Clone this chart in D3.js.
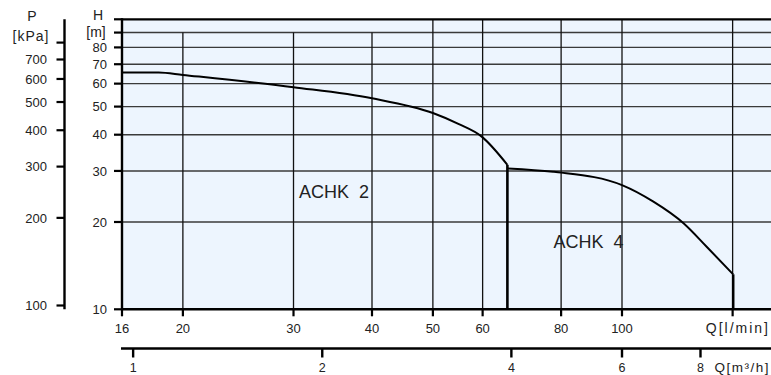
<!DOCTYPE html>
<html><head><meta charset="utf-8">
<script src="https://cdn.jsdelivr.net/npm/d3@7"></script>
<style>
html,body{margin:0;padding:0;background:#fff;}
svg{display:block;font-family:"Liberation Sans",Arial,sans-serif;}
</style></head>
<body>
<svg id="chart" width="771" height="375"></svg>
<script>
// ---- data ----
const achk2Q = [16, 18.3, 20, 30, 40, 50, 55, 59.8, 65.7];
const achk2H = [65.6, 65.6, 64.3, 58.3, 53.4, 47.5, 43.5, 39.4, 31.5];
const achk4Q = [65.7, 77.7, 80, 100, 112.2, 125.3, 136.5, 150.3];
const achk4H = [30.6, 29.8, 29.6, 26.8, 23.5, 19.8, 16.4, 13.2];
const hTicks = [10, 20, 30, 40, 50, 60, 70, 80, 90, 100];
const hTickLabels = ["10", "20", "30", "40", "50", "60", "70", "80", "", ""];
const hGrid = [20, 30, 40, 50, 60, 70, 80, 90];
const pTicks = [100, 200, 300, 400, 500, 600, 700, 800];
const pTickLabels = ["100", "200", "300", "400", "500", "600", "700", ""];
const qTicks = [16, 20, 30, 40, 50, 60, 80, 100, 150];
const qTickLabels = ["16", "20", "30", "40", "50", "60", "80", "100", ""];
const qGridShort = [20, 30, 40];
const qGridFull = [50, 60, 80, 100, 150];
const m3Ticks = [1, 2, 4, 6, 8];
const m3TickLabels = ["1", "2", "4", "6", "8"];
const curveLabels = [{name: "ACHK 2", q: 30.6, h: 24.2}, {name: "ACHK 4", q: 77.8, h: 16.3}];

// ---- layout ----
const W = 771;
const pLeft = 122, pTop = 19.3, pBottom = 309.3;
const svg = d3.select("#chart");

const x = d3.scaleLog().domain([16, 100]).range([pLeft, 622]);
const y = d3.scaleLog().domain([10, 100]).range([pBottom, pTop]);
const yP = d3.scaleLog().domain([100, 800]).range([305.5, 42.6]);
const xM3 = v => x(v * 1000 / 60);

// plot background
svg.append("rect").attr("x", pLeft).attr("y", pTop).attr("width", W - pLeft).attr("height", pBottom - pTop)
  .attr("fill", "#edf5fe");

// horizontal grid
svg.append("g").selectAll("line").data(hGrid).join("line")
  .attr("x1", pLeft).attr("x2", W).attr("y1", d => y(d)).attr("y2", d => y(d))
  .attr("stroke", "#3a3a3a").attr("stroke-width", 1.4);

// vertical grid
svg.append("g").selectAll("line").data(qGridShort).join("line")
  .attr("x1", d => x(d)).attr("x2", d => x(d)).attr("y1", y(90)).attr("y2", pBottom)
  .attr("stroke", "#111").attr("stroke-width", 1.3);
svg.append("g").selectAll("line").data(qGridFull).join("line")
  .attr("x1", d => x(d)).attr("x2", d => x(d)).attr("y1", pTop).attr("y2", pBottom)
  .attr("stroke", "#111").attr("stroke-width", 1.3);

// borders
svg.append("line").attr("x1", pLeft).attr("x2", W).attr("y1", pTop).attr("y2", pTop)
  .attr("stroke", "#000").attr("stroke-width", 2.2);
svg.append("line").attr("x1", pLeft).attr("x2", W).attr("y1", pBottom).attr("y2", pBottom)
  .attr("stroke", "#000").attr("stroke-width", 2.4);
svg.append("line").attr("x1", pLeft).attr("x2", pLeft).attr("y1", pTop - 1).attr("y2", pBottom + 1)
  .attr("stroke", "#000").attr("stroke-width", 2.4);

const txt = "#222";
// H axis ticks
svg.append("g").selectAll("line").data(hTicks).join("line")
  .attr("x1", pLeft - 8).attr("x2", pLeft).attr("y1", d => y(d)).attr("y2", d => y(d))
  .attr("stroke", "#000").attr("stroke-width", 2.2);
svg.append("g").selectAll("text").data(hTicks).join("text")
  .attr("x", pLeft - 15).attr("y", d => y(d)).attr("dy", "0.36em")
  .attr("text-anchor", "end").attr("font-size", 13).attr("fill", txt)
  .text((d, i) => hTickLabels[i]);
svg.append("text").attr("x", 98).attr("y", 15).attr("dy", "0.36em").attr("text-anchor", "middle")
  .attr("font-size", 14).attr("fill", txt).text("H");
svg.append("text").attr("x", 96).attr("y", 32).attr("dy", "0.36em").attr("text-anchor", "middle")
  .attr("font-size", 14).attr("fill", txt).text("[m]");

// P axis
const pX = 64.5;
svg.append("line").attr("x1", pX).attr("x2", pX).attr("y1", pTop).attr("y2", pBottom)
  .attr("stroke", "#000").attr("stroke-width", 2.4);
svg.append("g").selectAll("line").data(pTicks).join("line")
  .attr("x1", pX - 8).attr("x2", pX).attr("y1", d => yP(d)).attr("y2", d => yP(d))
  .attr("stroke", "#000").attr("stroke-width", 2.2);
svg.append("g").selectAll("text").data(pTicks).join("text")
  .attr("x", 47).attr("y", d => yP(d)).attr("dy", "0.36em")
  .attr("text-anchor", "end").attr("font-size", 13).attr("fill", txt)
  .text((d, i) => pTickLabels[i]);
svg.append("text").attr("x", 32).attr("y", 16).attr("dy", "0.36em").attr("text-anchor", "middle")
  .attr("font-size", 14).attr("fill", txt).text("P");
svg.append("text").attr("x", 31).attr("y", 36).attr("dy", "0.36em").attr("text-anchor", "middle")
  .attr("font-size", 14).attr("fill", txt).attr("letter-spacing", 1).text("[kPa]");

// Q l/min axis
svg.append("g").selectAll("line").data(qTicks).join("line")
  .attr("x1", d => x(d)).attr("x2", d => x(d)).attr("y1", pBottom).attr("y2", pBottom + 7)
  .attr("stroke", "#000").attr("stroke-width", 2.2);
svg.append("g").selectAll("text").data(qTicks).join("text")
  .attr("x", d => x(d)).attr("y", 328).attr("dy", "0.36em")
  .attr("text-anchor", "middle").attr("font-size", 13).attr("fill", txt)
  .text((d, i) => qTickLabels[i]);
svg.append("text").attr("x", 770).attr("y", 328).attr("dy", "0.36em").attr("text-anchor", "end")
  .attr("font-size", 14).attr("fill", txt).attr("letter-spacing", 2).text("Q[l/min]");

// Q m3/h axis
const m3Y = 348.5;
svg.append("line").attr("x1", pLeft - 1).attr("x2", W).attr("y1", m3Y).attr("y2", m3Y)
  .attr("stroke", "#000").attr("stroke-width", 2.4);
svg.append("g").selectAll("line").data(m3Ticks).join("line")
  .attr("x1", d => xM3(d)).attr("x2", d => xM3(d)).attr("y1", m3Y).attr("y2", m3Y + 9)
  .attr("stroke", "#000").attr("stroke-width", 2.4);
svg.append("g").selectAll("text").data(m3Ticks).join("text")
  .attr("x", d => xM3(d)).attr("y", 371.5)
  .attr("text-anchor", "middle").attr("font-size", 12.5).attr("fill", txt)
  .text((d, i) => m3TickLabels[i]);
svg.append("text").attr("x", 770).attr("y", 371.5).attr("text-anchor", "end")
  .attr("font-size", 13.5).attr("fill", txt).attr("letter-spacing", 1.5).text("Q[m³/h]");

// curves
const line = d3.line().x(d => x(d[0])).y(d => y(d[1])).curve(d3.curveMonotoneX);
function drawCurve(qs, hs) {
  const pts = qs.map((q, i) => [q, hs[i]]);
  svg.append("path").attr("d", line(pts)).attr("fill", "none")
    .attr("stroke", "#000").attr("stroke-width", 2);
  const last = pts[pts.length - 1];
  svg.append("line").attr("x1", x(last[0])).attr("x2", x(last[0]))
    .attr("y1", y(last[1])).attr("y2", pBottom)
    .attr("stroke", "#000").attr("stroke-width", 2.6);
}
drawCurve(achk2Q, achk2H);
drawCurve(achk4Q, achk4H);

svg.append("g").selectAll("text").data(curveLabels).join("text")
  .attr("x", d => x(d.q)).attr("y", d => y(d.h))
  .attr("font-size", 18).attr("fill", txt)
  .style("white-space", "pre")
  .text(d => d.name.replace(" ", "  "));
</script>
</body></html>
